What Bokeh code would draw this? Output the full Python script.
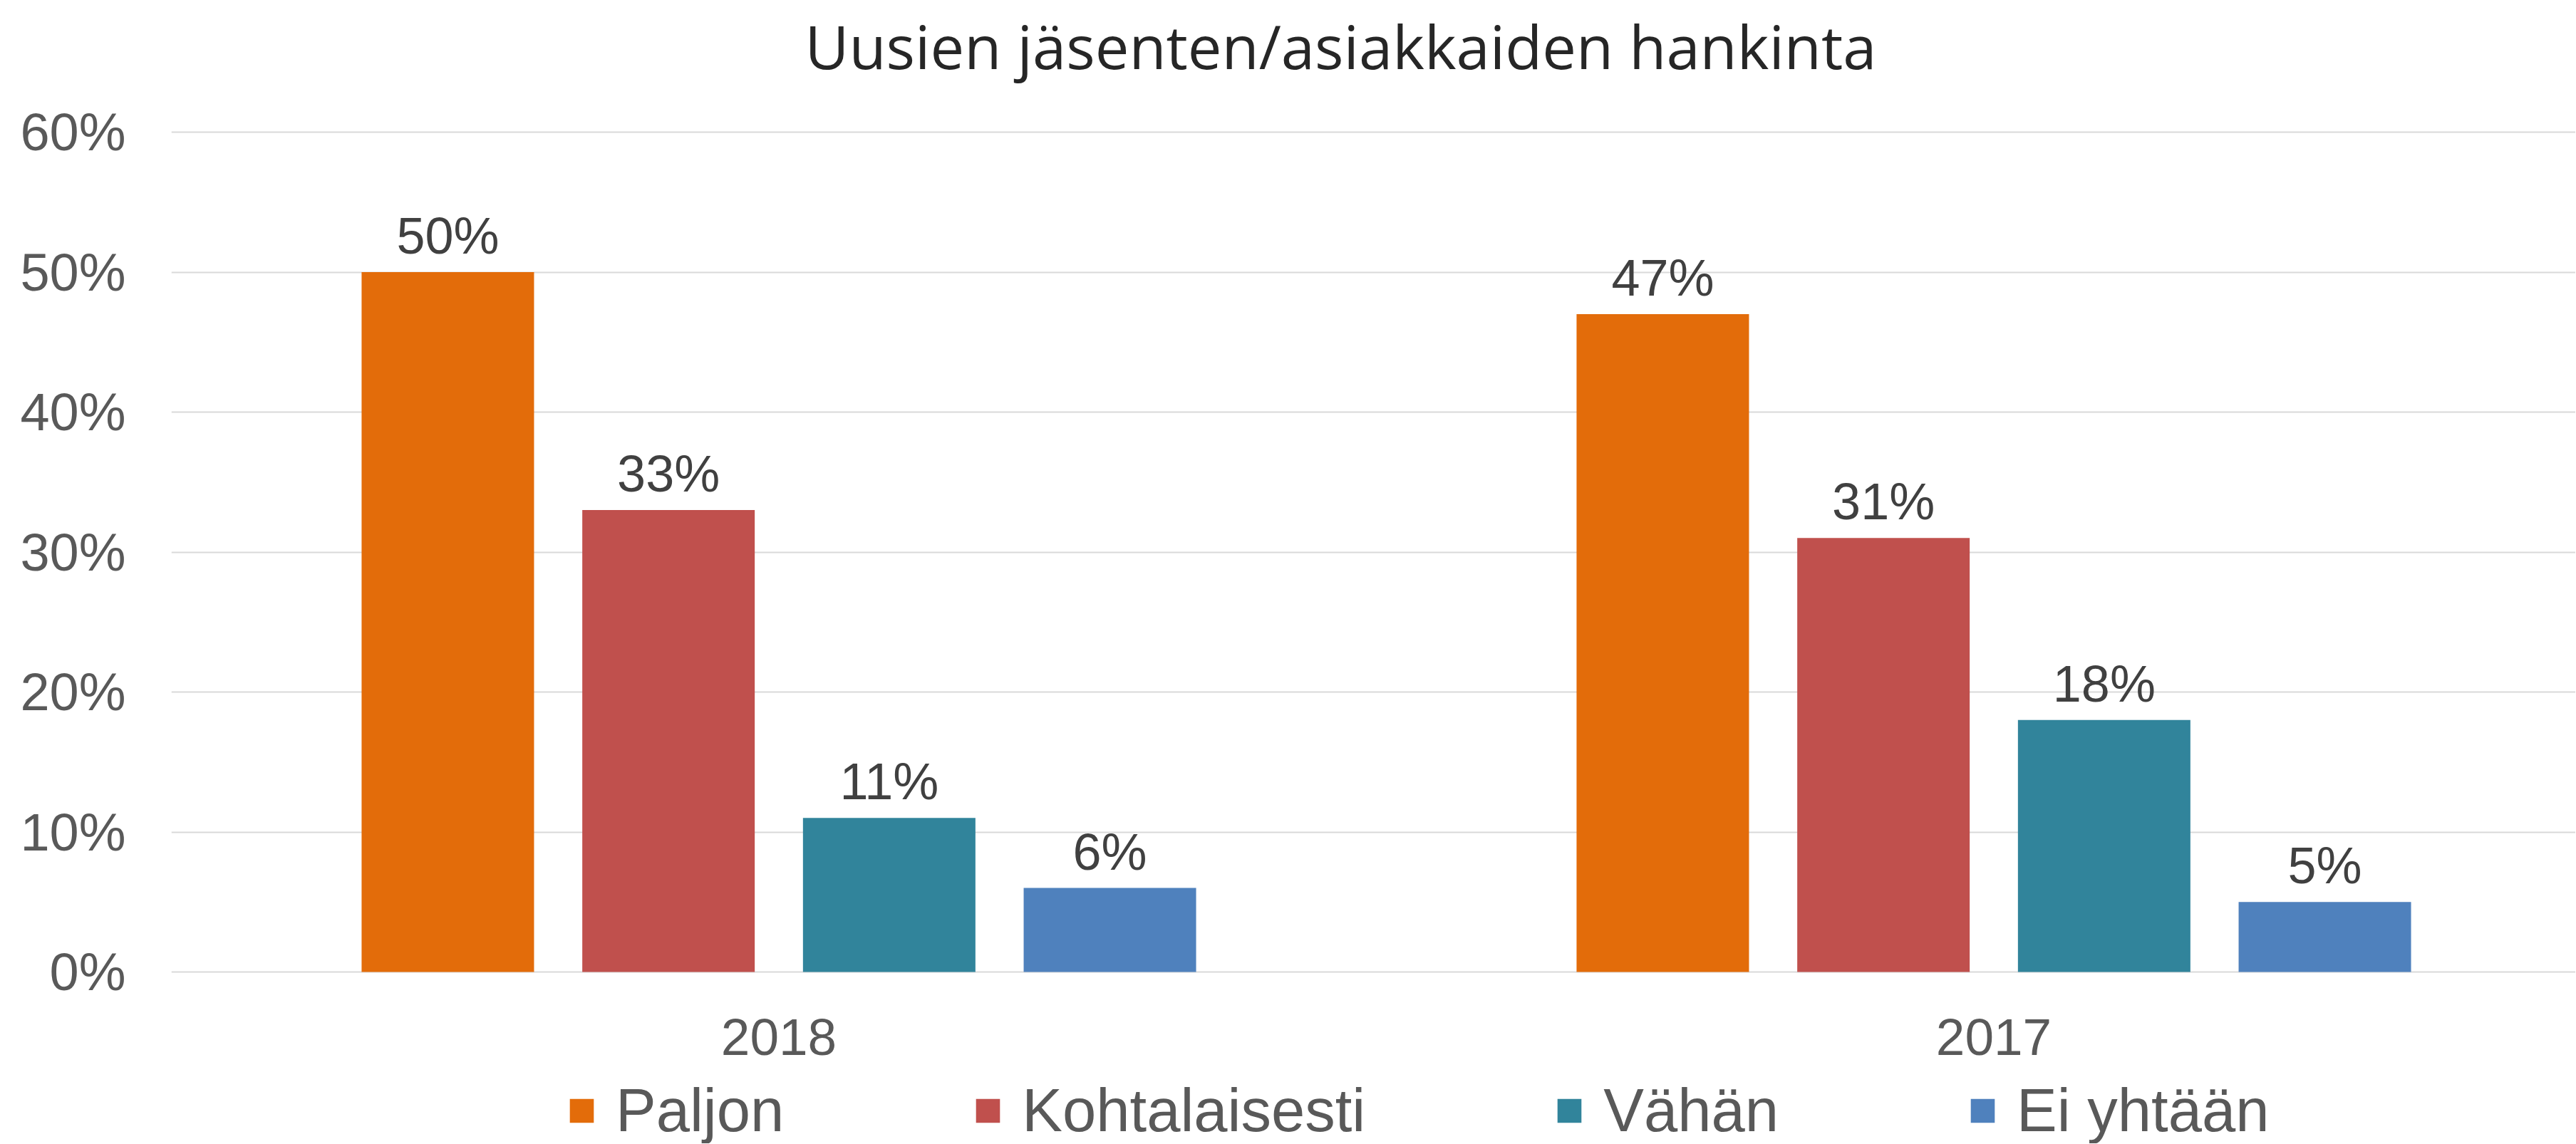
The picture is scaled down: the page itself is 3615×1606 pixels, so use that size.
from bokeh.plotting import figure
from bokeh.models import (ColumnDataSource, Range1d, FixedTicker, Legend, LegendItem,
                          Label, LabelSet)
from bokeh.transform import dodge
from bokeh.embed import file_html
from bokeh.resources import INLINE
from bokeh.core.properties import value

# ---- data ----
title_text = "Uusien jäsenten/asiakkaiden hankinta"
years = ["2018", "2017"]
series_names = ["Paljon", "Kohtalaisesti", "Vähän", "Ei yhtään"]
paljon = [0.50, 0.47]
kohtalaisesti = [0.33, 0.31]
vahan = [0.11, 0.18]
ei_yhtaan = [0.06, 0.05]
y_ticks = [0, 0.1, 0.2, 0.3, 0.4, 0.5, 0.6]
y_tick_labels = ["0%", "10%", "20%", "30%", "40%", "50%", "60%"]

series_values = [paljon, kohtalaisesti, vahan, ei_yhtaan]
colors = ["#E36C0A", "#C0504D", "#31849B", "#4F81BD"]

# ---- geometry (canvas pixels) ----
W, H = 3614, 1605
frame_left = 240
px_per_x = 1705.0
px_per_y = 1965.0
zero_px = 1364.0
cat0_px = 1092.5

x_start = (frame_left - cat0_px) / px_per_x
x_end = (W - cat0_px) / px_per_x
y_end = zero_px / px_per_y
y_start = (zero_px - H) / px_per_y

p = figure(width=W, height=H, output_backend="svg", toolbar_location=None,
           x_range=Range1d(x_start, x_end), y_range=Range1d(y_start, y_end),
           min_border_left=frame_left, min_border_right=0,
           min_border_top=0, min_border_bottom=0)
p.outline_line_color = None
p.background_fill_color = "white"
p.border_fill_color = "white"

x_idx = list(range(len(years)))
pitch = 309.7 / px_per_x
bar_w = 242.0 / px_per_x
items = []
for i, (name, vals, col) in enumerate(zip(series_names, series_values, colors)):
    src = ColumnDataSource(dict(x=x_idx, top=vals,
                                lbl=["%d%%" % round(v * 100) for v in vals]))
    off = (i - 1.5) * pitch
    r = p.vbar(x=dodge("x", off), top="top", bottom=0, width=bar_w, source=src,
               fill_color=col, line_color=None)
    items.append(LegendItem(label=name, renderers=[r]))
    p.add_layout(LabelSet(x=dodge("x", off), y="top", text="lbl", source=src,
                          y_offset=26, text_align="center", text_baseline="alphabetic",
                          text_font=value("Liberation Sans"), text_font_size="72px",
                          text_color="#404040"))

# y axis
p.yaxis.ticker = FixedTicker(ticks=y_ticks)
p.yaxis.major_label_overrides = {t: l for t, l in zip(y_ticks, y_tick_labels)}
p.yaxis.axis_line_color = None
p.yaxis.major_tick_line_color = None
p.yaxis.minor_tick_line_color = None
p.yaxis.major_tick_out = 0
p.yaxis.major_label_standoff = 64
p.yaxis.major_label_text_font = "Liberation Sans"
p.yaxis.major_label_text_font_size = "74px"
p.yaxis.major_label_text_color = "#595959"

# category labels below the zero line
p.xaxis.visible = False
cat_src = ColumnDataSource(dict(x=x_idx, y=[0] * len(years), t=years))
p.add_layout(LabelSet(x="x", y="y", text="t", source=cat_src, y_offset=-116,
                      text_align="center", text_baseline="alphabetic",
                      text_font=value("Liberation Sans"), text_font_size="73px",
                      text_color="#595959"))

p.xgrid.grid_line_color = None
p.ygrid.grid_line_color = "#D9D9D9"
p.ygrid.grid_line_width = 2

# title
title_x = (1881 - cat0_px) / px_per_x
title_y = (zero_px - 63) / px_per_y
p.add_layout(Label(x=title_x, y=title_y, text=title_text, text_align="center",
                   text_baseline="alphabetic", text_font="Open Sans",
                   text_font_size="85px", text_color="#262626"))

# legend inside frame at bottom (location in px from frame's bottom-left)
legend = Legend(items=items, orientation="horizontal",
                location=(555, -3),
                glyph_width=42, glyph_height=42, label_standoff=27, spacing=265,
                label_text_font="Liberation Sans", label_text_font_size="85px",
                label_text_color="#595959", border_line_color=None,
                background_fill_alpha=0, padding=0, margin=0)
p.add_layout(legend)

open("out.html", "w").write(file_html(p, INLINE))
